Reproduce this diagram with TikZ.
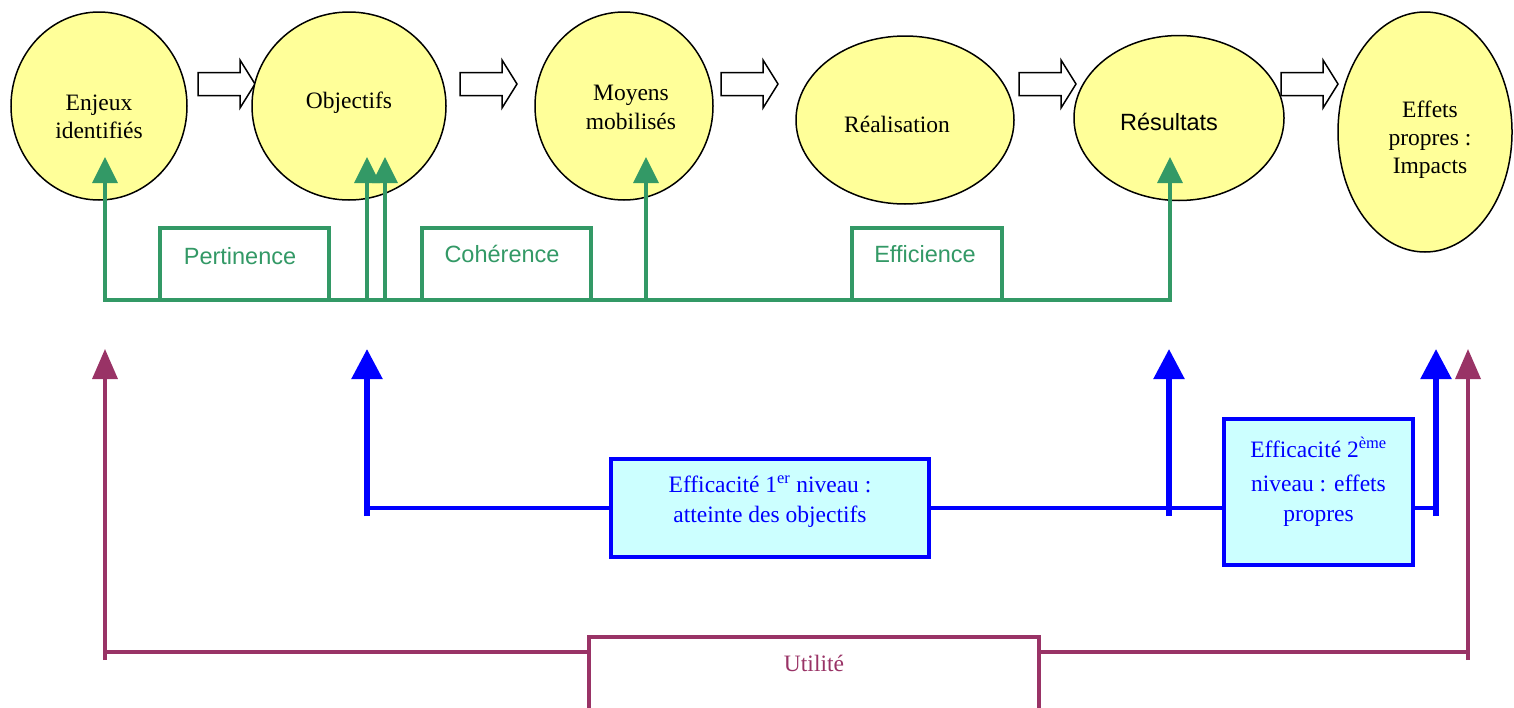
\documentclass[tikz,border=0pt]{standalone}
\usepackage{fontspec}
\setmainfont{Liberation Serif}
\newfontfamily\arialf{Liberation Sans}
\usetikzlibrary{arrows.meta,shapes.geometric}
\definecolor{ylw}{HTML}{FFFF99}
\definecolor{grn}{HTML}{339966}
\definecolor{blu}{HTML}{0000FF}
\definecolor{cyn}{HTML}{CCFFFF}
\definecolor{prp}{HTML}{993366}
\tikzset{
  ell/.style={ellipse, draw=black, line width=1.5pt, fill=ylw, inner sep=0pt},
  etext/.style={align=center, font=\fontsize{23.5}{28}\selectfont, inner sep=0pt},
  gbox/.style={draw=grn, line width=3.5pt, fill=white, inner sep=0pt},
  gtext/.style={text=grn, font=\arialf\fontsize{23.5}{28}\selectfont, inner sep=0pt},
  gline/.style={draw=grn, line width=3.5pt},
  garrow/.style={gline, -{Triangle[length=26pt,width=25pt]}},
  bbox/.style={draw=blu, line width=4pt, fill=cyn, inner sep=0pt},
  btext/.style={text=blu, align=center, font=\fontsize{23.5}{30}\selectfont, inner sep=0pt},
  bline/.style={draw=blu, line width=4pt},
  barrow/.style={draw=blu, line width=5.5pt, -{Triangle[length=30pt,width=30pt]}},
  pbox/.style={draw=prp, line width=4pt, fill=white, inner sep=0pt},
  pline/.style={draw=prp, line width=3.5pt},
  parrow/.style={pline, -{Triangle[length=30pt,width=25pt]}},
  blk/.pic={\draw[black, line width=1.5pt, fill=white, line join=miter]
    (0,-11.5) -- (42,-11.5) -- (42,-24) -- (57,0) -- (42,24) -- (42,11.5) -- (0,11.5) -- cycle;}
}
\begin{document}
\begin{tikzpicture}[x=1pt,y=-1pt]
\useasboundingbox (0,0) rectangle (1514,707);
% block arrows (behind ellipses)
\pic at (198,84) {blk};
\pic at (460,84) {blk};
\pic at (721,84) {blk};
\pic at (1019,84) {blk};
\pic at (1281,84) {blk};
% ellipses
\node[ell, minimum width=176pt, minimum height=188pt] (enjeux) at (99,106) {};
\node[ell, minimum width=194pt, minimum height=188pt] (objectifs) at (349,106) {};
\node[ell, minimum width=178pt, minimum height=188pt] (moyens) at (624,106) {};
\node[ell, minimum width=218pt, minimum height=168pt] (realisation) at (905,120) {};
\node[ell, minimum width=210pt, minimum height=165pt] (resultats) at (1179,118) {};
\node[ell, minimum width=174pt, minimum height=240pt] (effets) at (1425,132) {};
\node[etext] (tenjeux) at (99,117) {Enjeux\\identifiés};
\node[etext] (tobjectifs) at (349,103) {Objectifs};
\node[etext, font=\fontsize{23.5}{29}\selectfont] (tmoyens) at (631,107) {Moyens\\mobilisés};
\node[etext] (trealisation) at (897,124) {Réalisation};
\node[etext, font=\arialf\fontsize{23.5}{28}\selectfont] (tresultats) at (1169,122) {Résultats};
\node[etext] (teffets) at (1430,140) {Effets\\propres :\\Impacts};
% green network
\coordinate (g1) at (105,300);
\coordinate (g2) at (367,300);
\coordinate (g3) at (385,300);
\coordinate (g4) at (646,300);
\coordinate (g5) at (1170,300);
\coordinate (t1) at (105,157);
\coordinate (t2) at (367,157);
\coordinate (t3) at (385,157);
\coordinate (t4) at (646,157);
\coordinate (t5) at (1170,157);
\draw[gline, line cap=rect] (g1) -- (g5);
\node[gbox, minimum width=169pt, minimum height=72pt] (pert) at (244.5,264) {};
\node[gbox, minimum width=169pt, minimum height=72pt] (coh) at (506.5,264) {};
\node[gbox, minimum width=150pt, minimum height=72pt] (effic) at (927,264) {};
\node[gtext] (tpert) at (240,256) {Pertinence};
\node[gtext] (tcoh) at (502,254) {Cohérence};
\node[gtext] (teffic) at (925,254) {Efficience};
\draw[garrow] (g1) -- (t1);
\draw[garrow] (g2) -- (t2);
\draw[garrow] (g3) -- (t3);
\draw[garrow] (g4) -- (t4);
\draw[garrow] (g5) -- (t5);
% blue network
\node[bbox, minimum width=318pt, minimum height=98pt] (eff1) at (770,508) {};
\node[bbox, minimum width=189pt, minimum height=146pt] (eff2) at (1318.5,492) {};
\node[btext] (teff1) at (770,502) {Efficacité 1\textsuperscript{er} niveau :\\atteinte des objectifs};
\node[btext] (teff2) at (1318.5,482) {Efficacité 2\textsuperscript{ème}\\[4pt]niveau : effets\\propres};
\coordinate (b1) at (367,516);
\coordinate (b2) at (1169,516);
\coordinate (b3) at (1436,516);
\coordinate (h1) at (367,508);
\coordinate (h3) at (1436,508);
\coordinate (bt1) at (367,349);
\coordinate (bt2) at (1169,349);
\coordinate (bt3) at (1436,349);
\draw[bline] (h1) -- (eff1.west |- h1);
\draw[bline] (eff1.east |- h1) -- (eff2.west |- h1);
\draw[bline] (eff2.east |- h1) -- (h3);
\draw[barrow] (b1) -- (bt1);
\draw[barrow] (b2) -- (bt2);
\draw[barrow] (b3) -- (bt3);
% purple network
\node[pbox, minimum width=450pt, minimum height=100pt] (util) at (814,687) {};
\node[etext, text=prp] (tutil) at (814,663) {Utilité};
\coordinate (p1) at (105,660);
\coordinate (p2) at (1468,660);
\coordinate (pl) at (105,652);
\coordinate (pr) at (1468,652);
\coordinate (pt1) at (105,349);
\coordinate (pt2) at (1468,349);
\draw[pline] (pl) -- (util.west |- pl);
\draw[pline] (util.east |- pr) -- (pr);
\draw[parrow] (p1) -- (pt1);
\draw[parrow] (p2) -- (pt2);
\end{tikzpicture}
\end{document}
